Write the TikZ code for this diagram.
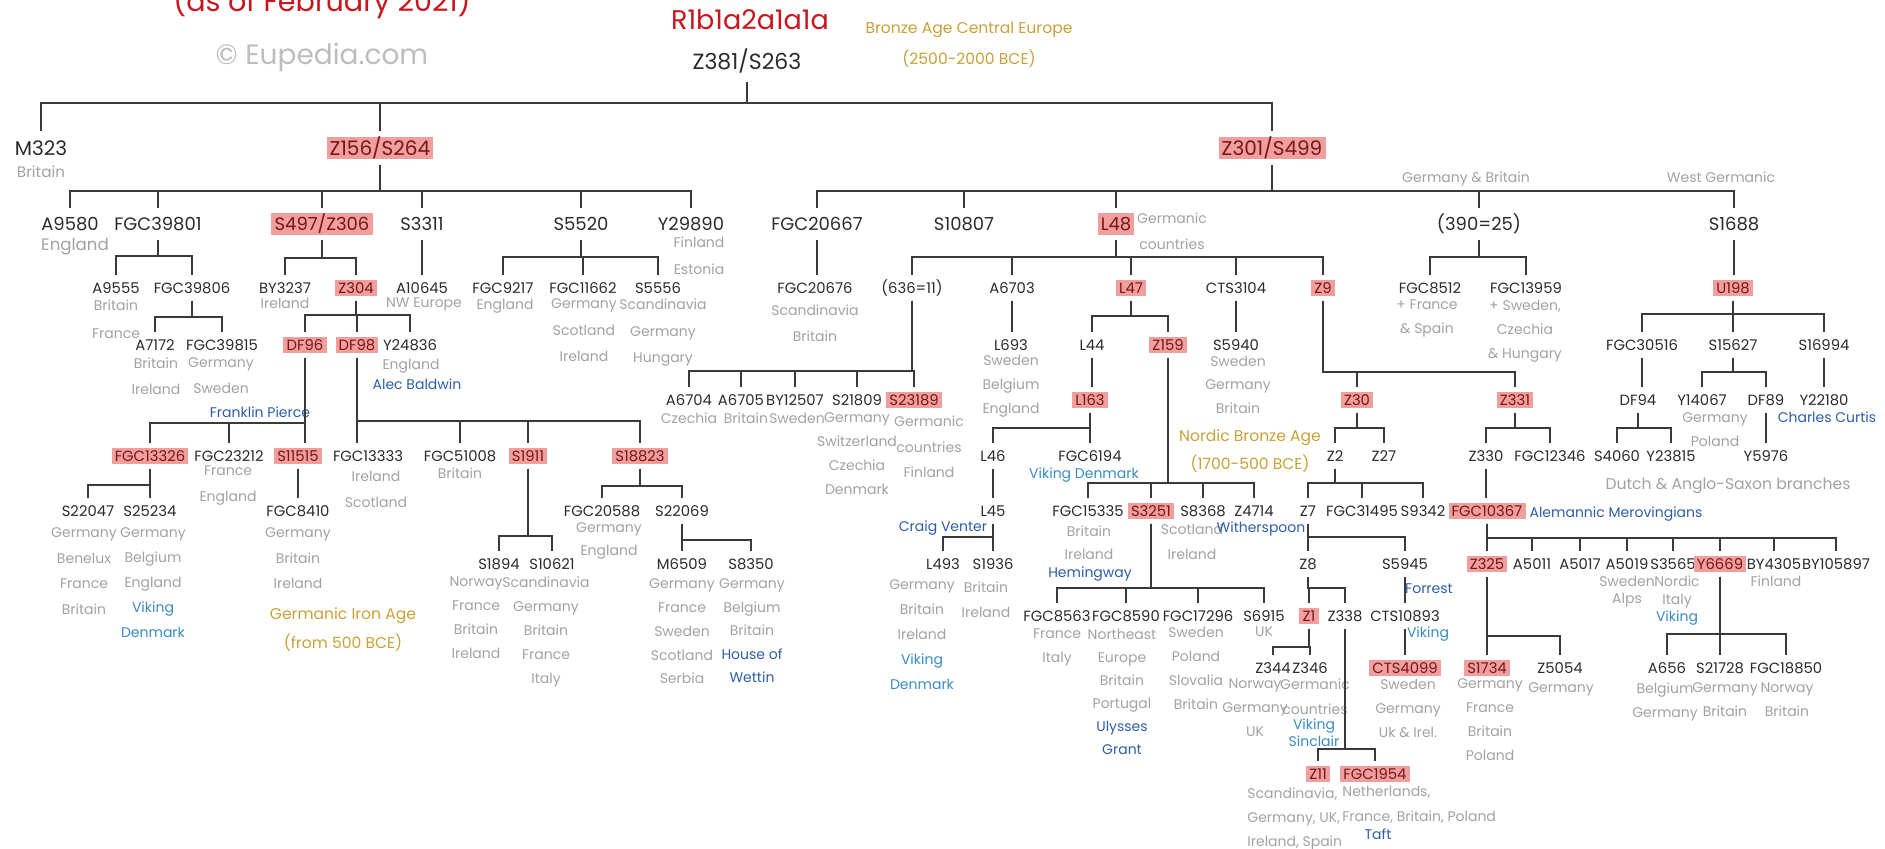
\documentclass[tikz,border=0pt]{standalone}
\usepackage{fontspec}
\setmainfont{Poppins}
\definecolor{ink}{HTML}{2B2B2B}
\definecolor{linec}{HTML}{3A3A3A}
\definecolor{grayt}{HTML}{A2A2A2}
\definecolor{eup}{HTML}{BDBDBD}
\definecolor{hlfill}{HTML}{F09E9E}
\definecolor{hltext}{HTML}{7A1515}
\definecolor{bluet}{HTML}{2E5EA8}
\definecolor{vik}{HTML}{3A8AC4}
\definecolor{gold}{HTML}{C8A23A}
\definecolor{redt}{HTML}{C8161E}
% parent -> bar level -> list of children
\newcommand\br[3]{\foreach \c in {#3}{\draw[tree] (#1.south) -- (#1.south |- 0,#2) -| (\c.north);}}
% parent straight down to a single child
\newcommand\st[2]{\draw[tree] (#1.south) -- (#1.south |- #2.north);}
\begin{document}
\begin{tikzpicture}[x=0.5pt,y=-0.5pt,
  tree/.style={draw=linec,line width=1.2pt},
  lab/.style={text=ink,inner xsep=1.6pt,text depth=0pt},
  r0/.style={lab,font=\fontsize{11}{13}\selectfont,text height=7.8pt,inner ysep=1pt,outer ysep=5pt},
  r1/.style={lab,font=\fontsize{10}{12}\selectfont,text height=7.1pt,inner ysep=2.1pt,outer ysep=3pt},
  r2/.style={lab,font=\fontsize{9}{11}\selectfont,text height=6.4pt,inner ysep=2.2pt,outer ysep=2.5pt},
  r3/.style={lab,font=\fontsize{7.4}{9}\selectfont,text height=5.3pt,inner ysep=1.4pt,outer ysep=2.3pt},
  hl/.style={fill=hlfill,text=hltext},
  gtx/.style={text=grayt,font=\fontsize{7}{#1}\selectfont,align=center,anchor=north,inner sep=0pt},
  gtx/.default=12,
  btx/.style={gtx=#1,text=bluet}, btx/.default=12,
  vtx/.style={gtx=#1,text=vik}, vtx/.default=12,
  otx/.style={text=gold,font=\fontsize{7.8}{#1}\selectfont,align=center,anchor=north,inner sep=0pt},
  otx/.default=14]
\fill[white] (0,0) rectangle (1885,849);
\useasboundingbox (0,0) rectangle (1885,849);

% ---- heading
\node[text=redt,font=\fontsize{14.3}{16}\selectfont,anchor=base] (t-date) at (322,12) {(as of February 2021)};
\node[text=eup,font=\fontsize{14}{16}\selectfont,anchor=base] (t-eup) at (322,65) {© Eupedia.com};
\node[text=redt,font=\fontsize{13.5}{16}\selectfont,anchor=base] (t-clade) at (750,29.5) {R1b1a2a1a1a};
\node[otx=15.5] (t-bronze) at (969,22) {Bronze Age Central Europe\\(2500-2000 BCE)};

% ---- root and first split
\node[r0] (z381) at (747,62) {Z381/S263};
\node[r1] (m323) at (41,148) {M323};
\node[r1,hl] (z156) at (380,148) {Z156/S264};
\node[r1,hl] (z301) at (1272,148) {Z301/S499};
\node[gtx,font=\fontsize{7.6}{12}\selectfont] (g-m323) at (41,166) {Britain};

% ---- second level
\node[r2] (a9580) at (70,224) {A9580};
\node[r2] (fgc39801) at (158,224) {FGC39801};
\node[r2,hl] (s497) at (322,224) {S497/Z306};
\node[r2] (s3311) at (422,224) {S3311};
\node[r2] (s5520) at (581,224) {S5520};
\node[r2] (y29890) at (691,224) {Y29890};
\node[r2] (fgc20667) at (817,224) {FGC20667};
\node[r2] (s10807) at (964,224) {S10807};
\node[r2,hl] (l48) at (1116,224) {L48};
\node[r2] (n390) at (1479,224) {(390=25)};
\node[r2] (s1688) at (1734,224) {S1688};
\node[gtx,font=\fontsize{8.3}{12}\selectfont] (g-a9580) at (75,237.5) {England};
\node[gtx=13.5] (g-y29890) at (699,236.5) {Finland\\Estonia};
\node[gtx=13] (g-l48) at (1172,212.5) {Germanic\\countries};
\node[gtx] (t-gb) at (1466,171.5) {Germany \& Britain};
\node[gtx] (t-wg) at (1721,171.5) {West Germanic};

% ---- third level
\node[r3] (a9555) at (116,288) {A9555};
\node[r3] (fgc39806) at (192,288) {FGC39806};
\node[r3] (by3237) at (285,288) {BY3237};
\node[r3,hl] (z304) at (356,288) {Z304};
\node[r3] (a10645) at (422,288) {A10645};
\node[r3] (fgc9217) at (503,288) {FGC9217};
\node[r3] (fgc11662) at (583,288) {FGC11662};
\node[r3] (s5556) at (658,288) {S5556};
\node[r3] (fgc20676) at (815,288) {FGC20676};
\node[r3] (n636) at (912,288) {(636=11)};
\node[r3] (a6703) at (1012,288) {A6703};
\node[r3,hl] (l47) at (1131,288) {L47};
\node[r3] (cts3104) at (1236,288) {CTS3104};
\node[r3,hl] (z9) at (1323,288) {Z9};
\node[r3] (fgc8512) at (1430,288) {FGC8512};
\node[r3] (fgc13959) at (1526,288) {FGC13959};
\node[r3,hl] (u198) at (1733,288) {U198};
\node[gtx=14] (g-a9555) at (116,299.5) {Britain\\France};
\node[gtx] (g-by3237) at (285,297.5) {Ireland};
\node[gtx] (g-a10645) at (424,297.5) {NW Europe};
\node[gtx] (g-fgc9217) at (505,298.5) {England};
\node[gtx=13.25] (g-fgc11662) at (584,298.5) {Germany\\Scotland\\Ireland};
\node[gtx=13.25] (g-s5556) at (663,298.5) {Scandinavia\\Germany\\Hungary};
\node[gtx=13] (g-fgc20676) at (815,304.5) {Scandinavia\\Britain};
\node[gtx] (g-fgc8512) at (1427,299.5) {+ France\\\& Spain};
\node[gtx] (g-fgc13959) at (1525,299.5) {+ Sweden,\\Czechia\\\& Hungary};

% ---- fourth level
\node[r3] (a7172) at (155,345) {A7172};
\node[r3] (fgc39815) at (222,345) {FGC39815};
\node[r3,hl] (df96) at (305,345) {DF96};
\node[r3,hl] (df98) at (357,345) {DF98};
\node[r3] (y24836) at (410,345) {Y24836};
\node[r3] (l693) at (1011,345) {L693};
\node[r3] (l44) at (1092,345) {L44};
\node[r3,hl] (z159) at (1168,345) {Z159};
\node[r3] (s5940) at (1236,345) {S5940};
\node[r3] (fgc30516) at (1642,345) {FGC30516};
\node[r3] (s15627) at (1733,345) {S15627};
\node[r3] (s16994) at (1824,345) {S16994};
\node[gtx=13] (g-a7172) at (156,357.5) {Britain\\Ireland};
\node[gtx=13] (g-fgc39815) at (221,357.5) {Germany\\Sweden};
\node[gtx] (g-y24836) at (411,358.5) {England};
\node[btx] (b-y24836) at (417,378.5) {Alec Baldwin};
\node[gtx] (g-l693) at (1011,354.5) {Sweden\\Belgium\\England};
\node[gtx=11.75] (g-s5940) at (1238,355.5) {Sweden\\Germany\\Britain};
\node[otx] (o-nordic) at (1250,429) {Nordic Bronze Age\\(1700-500 BCE)};

% ---- fifth level
\node[r3] (a6704) at (689,400) {A6704};
\node[r3] (a6705) at (741,400) {A6705};
\node[r3] (by12507) at (795,400) {BY12507};
\node[r3] (s21809) at (857,400) {S21809};
\node[r3,hl] (s23189) at (914,400) {S23189};
\node[r3,hl] (l163) at (1090,400) {L163};
\node[r3,hl] (z30) at (1357,400) {Z30};
\node[r3,hl] (z331) at (1515,400) {Z331};
\node[r3] (df94) at (1638,400) {DF94};
\node[r3] (y14067) at (1702,400) {Y14067};
\node[r3] (df89) at (1766,400) {DF89};
\node[r3] (y22180) at (1824,400) {Y22180};
\node[gtx] (g-a6704) at (689,412.5) {Czechia};
\node[gtx] (g-a6705) at (746,412.5) {Britain};
\node[gtx] (g-by12507) at (797,412.5) {Sweden};
\node[gtx] (g-s21809) at (857,412.5) {Germany\\Switzerland\\Czechia\\Denmark};
\node[gtx=12.75] (g-s23189) at (929,415.5) {Germanic\\countries\\Finland};
\node[gtx=11.75] (g-y14067) at (1715,412.5) {Germany\\Poland};
\node[btx] (b-y22180) at (1827,411.5) {Charles Curtis};

% ---- sixth level
\node[r3,hl] (fgc13326) at (150,456) {FGC13326};
\node[r3] (fgc23212) at (229,456) {FGC23212};
\node[r3,hl] (s11515) at (298,456) {S11515};
\node[r3] (fgc13333) at (368,456) {FGC13333};
\node[r3] (fgc51008) at (460,456) {FGC51008};
\node[r3,hl] (s1911) at (528,456) {S1911};
\node[r3,hl] (s18823) at (640,456) {S18823};
\node[r3] (l46) at (993,456) {L46};
\node[r3] (fgc6194) at (1090,456) {FGC6194};
\node[r3] (z2) at (1335,456) {Z2};
\node[r3] (z27) at (1384,456) {Z27};
\node[r3] (z330) at (1486,456) {Z330};
\node[r3] (fgc12346) at (1550,456) {FGC12346};
\node[r3] (s4060) at (1617,456) {S4060};
\node[r3] (y23815) at (1671,456) {Y23815};
\node[r3] (y5976) at (1766,456) {Y5976};
\node[btx] (b-df96) at (260,406.5) {Franklin Pierce};
\node[gtx=13] (g-fgc23212) at (228,465.5) {France\\England};
\node[gtx=13] (g-fgc13333) at (376,470.5) {Ireland\\Scotland};
\node[gtx] (g-fgc51008) at (460,467.5) {Britain};
\node[vtx] (v-fgc6194) at (1084,467.5) {Viking Denmark};
\node[gtx,font=\fontsize{7.8}{12}\selectfont] (g-dutch) at (1728,478) {Dutch \& Anglo-Saxon branches};

% ---- seventh level
\node[r3] (s22047) at (88,511) {S22047};
\node[r3] (s25234) at (150,511) {S25234};
\node[r3] (fgc8410) at (298,511) {FGC8410};
\node[r3] (fgc20588) at (602,511) {FGC20588};
\node[r3] (s22069) at (682,511) {S22069};
\node[r3] (l45) at (993,511) {L45};
\node[r3] (fgc15335) at (1088,511) {FGC15335};
\node[r3,hl] (s3251) at (1151,511) {S3251};
\node[r3] (s8368) at (1203,511) {S8368};
\node[r3] (z4714) at (1254,511) {Z4714};
\node[r3] (z7) at (1308,511) {Z7};
\node[r3] (fgc31495) at (1362,511) {FGC31495};
\node[r3] (s9342) at (1423,511) {S9342};
\node[r3,hl] (fgc10367) at (1487,511) {FGC10367};
\node[gtx=12.8] (g-s22047) at (84,527.5) {Germany\\Benelux\\France\\Britain};
\node[gtx=12.5] (g-s25234) at (153,527.5) {Germany\\Belgium\\England\\{\color{vik}Viking}\\{\color{vik}Denmark}};
\node[gtx=12.7] (g-fgc8410) at (298,527.5) {Germany\\Britain\\Ireland};
\node[otx=14.5] (o-iron) at (343,607) {Germanic Iron Age\\(from 500 BCE)};
\node[gtx=11.5] (g-fgc20588) at (609,522.5) {Germany\\England};
\node[btx] (b-l45) at (943,520.5) {Craig Venter};
\node[gtx=11.5] (g-fgc15335) at (1089,525.5) {Britain\\Ireland};
\node[btx] (b-fgc15335) at (1090,566.5) {Hemingway};
\node[gtx=12.5] (g-s8368) at (1192,523.5) {Scotland\\Ireland};
\node[btx] (b-z4714) at (1261,521.5) {Witherspoon};
\node[btx] (b-fgc10367) at (1616,506.5) {Alemannic Merovingians};

% ---- eighth level
\node[r3] (s1894) at (499,564) {S1894};
\node[r3] (s10621) at (552,564) {S10621};
\node[r3] (m6509) at (682,564) {M6509};
\node[r3] (s8350) at (751,564) {S8350};
\node[r3] (l493) at (943,564) {L493};
\node[r3] (s1936) at (993,564) {S1936};
\node[r3] (z8) at (1308,564) {Z8};
\node[r3] (s5945) at (1405,564) {S5945};
\node[r3,hl] (z325) at (1487,564) {Z325};
\node[r3] (a5011) at (1532,564) {A5011};
\node[r3] (a5017) at (1580,564) {A5017};
\node[r3] (a5019) at (1627,564) {A5019};
\node[r3] (s3565) at (1673,564) {S3565};
\node[r3,hl] (y6669) at (1720,564) {Y6669};
\node[r3] (by4305) at (1774,564) {BY4305};
\node[r3] (by105897) at (1836,564) {BY105897};
\node[gtx] (g-s1894) at (476,576.5) {Norway\\France\\Britain\\Ireland};
\node[gtx] (g-s10621) at (546,576.5) {Scandinavia\\Germany\\Britain\\France\\Italy};
\node[gtx=11.9] (g-m6509) at (682,578.5) {Germany\\France\\Sweden\\Scotland\\Serbia};
\node[gtx=11.75] (g-s8350) at (752,578.5) {Germany\\Belgium\\Britain\\{\color{bluet}House of}\\{\color{bluet}Wettin}};
\node[gtx=12.5] (g-l493) at (922,579.5) {Germany\\Britain\\Ireland\\{\color{vik}Viking}\\{\color{vik}Denmark}};
\node[gtx=12.5] (g-s1936) at (986,581.5) {Britain\\Ireland};
\node[btx] (b-s5945) at (1429,583.5) {Forrest};
\node[gtx=8.5] (g-a5019) at (1627,575.5) {Sweden\\Alps};
\node[gtx=8.75] (g-s3565) at (1677,575.5) {Nordic\\Italy\\{\color{vik}Viking}};
\node[gtx] (g-by4305) at (1776,575.5) {Finland};

% ---- ninth level
\node[r3] (fgc8563) at (1057,616) {FGC8563};
\node[r3] (fgc8590) at (1126,616) {FGC8590};
\node[r3] (fgc17296) at (1198,616) {FGC17296};
\node[r3] (s6915) at (1264,616) {S6915};
\node[r3,hl] (z1) at (1309,616) {Z1};
\node[r3] (z338) at (1345,616) {Z338};
\node[r3] (cts10893) at (1405,616) {CTS10893};
\node[gtx] (g-fgc8563) at (1057,628.5) {France\\Italy};
\node[gtx=11.5] (g-fgc8590) at (1122,628.5) {Northeast\\Europe\\Britain\\Portugal\\{\color{bluet}Ulysses}\\{\color{bluet}Grant}};
\node[gtx] (g-fgc17296) at (1196,626.5) {Sweden\\Poland\\Slovalia\\Britain};
\node[gtx] (g-s6915) at (1264,626.5) {UK};
\node[vtx] (v-cts10893) at (1428,626.5) {Viking};

% ---- tenth level
\node[r3] (z344) at (1273,668) {Z344};
\node[r3] (z346) at (1310,668) {Z346};
\node[r3,hl] (cts4099) at (1405,668) {CTS4099};
\node[r3,hl] (s1734) at (1487,668) {S1734};
\node[r3] (z5054) at (1560,668) {Z5054};
\node[r3] (a656) at (1667,668) {A656};
\node[r3] (s21728) at (1720,668) {S21728};
\node[r3] (fgc18850) at (1786,668) {FGC18850};
\node[gtx] (g-z344) at (1255,678.5) {Norway\\Germany\\UK};
\node[gtx=12.5] (g-z346) at (1315,678.5) {Germanic\\countries};
\node[vtx=8.5] (v-z346) at (1314,718.5) {Viking\\Sinclair};
\node[gtx] (g-cts4099) at (1408,678.5) {Sweden\\Germany\\Uk \& Irel.};
\node[gtx] (g-s1734) at (1490,678.5) {Germany\\France\\Britain\\Poland};
\node[gtx] (g-z5054) at (1561,682.5) {Germany};
\node[gtx] (g-a656) at (1665,682.5) {Belgium\\Germany};
\node[gtx] (g-s21728) at (1725,682.5) {Germany\\Britain};
\node[gtx] (g-fgc18850) at (1787,682.5) {Norway\\Britain};

% ---- eleventh level
\node[r3,hl] (z11) at (1318,774) {Z11};
\node[r3,hl] (fgc1954) at (1375,774) {FGC1954};
\node[gtx,align=left,anchor=north west] (g-z11) at (1247,787.5) {Scandinavia,\\Germany, UK,\\Ireland, Spain};
\node[gtx=12.5,align=left,anchor=north west] (g-fgc1954) at (1342,785.5) {Netherlands,\\France, Britain, Poland};
\node[btx] (b-fgc1954) at (1378,828.5) {Taft};

% ---- connectors
\br{z381}{103}{m323,z156,z301}
\br{z156}{191}{a9580,fgc39801,s497,s3311,s5520,y29890}
\br{z301}{191}{fgc20667,s10807,l48,n390,s1688}
\br{fgc39801}{256}{a9555,fgc39806}
\br{s497}{258}{by3237,z304}
\st{s3311}{a10645}
\br{s5520}{257}{fgc9217,fgc11662,s5556}
\st{fgc20667}{fgc20676}
\br{l48}{257}{n636,a6703,l47,cts3104,z9}
\br{n390}{257}{fgc8512,fgc13959}
\st{s1688}{u198}
\br{fgc39806}{317}{a7172,fgc39815}
\br{z304}{315}{df96,df98,y24836}
\st{a6703}{l693}
\br{l47}{316}{l44,z159}
\st{cts3104}{s5940}
\br{u198}{314}{fgc30516,s15627,s16994}
\br{n636}{371}{a6704,a6705,by12507,s21809,s23189}
\st{l44}{l163}
\br{z9}{372}{z30,z331}
\st{fgc30516}{df94}
\br{s15627}{372}{y14067,df89}
\st{s16994}{y22180}
\br{df96}{423}{fgc13326,fgc23212}
\st{df96}{s11515}
\br{df98}{421}{fgc51008,s1911,s18823}
\st{df98}{fgc13333}
\br{l163}{428}{l46,fgc6194}
\br{z159}{483}{fgc15335,s3251,s8368,z4714}
\br{z30}{428}{z2,z27}
\br{z331}{428}{z330,fgc12346}
\br{df94}{428}{s4060,y23815}
\st{df89}{y5976}
\br{fgc13326}{485}{s22047,s25234}
\st{s11515}{fgc8410}
\br{s1911}{536}{s1894,s10621}
\br{s18823}{486}{fgc20588,s22069}
\st{l46}{l45}
\br{z2}{483}{z7,fgc31495,s9342}
\st{z330}{fgc10367}
\br{s22069}{540}{m6509,s8350}
\br{l45}{537}{l493,s1936}
\br{s3251}{588}{fgc8563,fgc8590,fgc17296,s6915}
\br{z7}{537}{z8,s5945}
\br{fgc10367}{538}{z325,a5011,a5017,a5019,s3565,y6669,by4305,by105897}
\br{z8}{588}{z1,z338}
\st{s5945}{cts10893}
\br{z325}{636}{s1734,z5054}
\br{y6669}{634}{a656,s21728,fgc18850}
\br{z1}{647}{z344,z346}
\st{cts10893}{cts4099}
\br{z338}{749}{z11,fgc1954}
\end{tikzpicture}
\end{document}
